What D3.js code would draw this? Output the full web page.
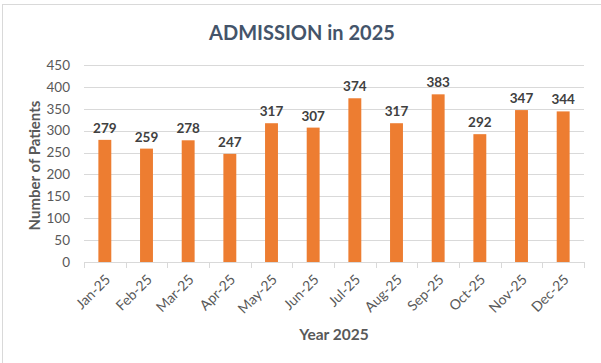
<!DOCTYPE html>
<html>
<head>
<meta charset="utf-8">
<script src="https://cdn.jsdelivr.net/npm/d3@7"></script>
<style>
  body { margin: 0; background: #fff; }
  svg { font-family: Lato, "Open Sans", sans-serif; }
</style>
</head>
<body>
<svg id="chart" width="601" height="363"></svg>
<script>
const months = ['Jan-25', 'Feb-25', 'Mar-25', 'Apr-25', 'May-25', 'Jun-25',
                'Jul-25', 'Aug-25', 'Sep-25', 'Oct-25', 'Nov-25', 'Dec-25']
const admissions = [279, 259, 278, 247, 317, 307, 374, 317, 383, 292, 347, 344]
const yTicks = [0, 50, 100, 150, 200, 250, 300, 350, 400, 450]

const margin = {top: 65, right: 17, bottom: 101, left: 84}
const width = 601 - margin.left - margin.right
const height = 363 - margin.top - margin.bottom

const svg = d3.select('#chart')

// outer chart border (right/bottom fall outside the window)
svg.append('rect')
  .attr('x', 2.5).attr('y', 4.5)
  .attr('width', 640).attr('height', 420)
  .attr('fill', 'none')
  .attr('stroke', '#d9d9d9')

const g = svg.append('g')
  .attr('transform', `translate(${margin.left}, ${margin.top})`)

const x = d3.scaleBand().domain(months).range([0, width])
const y = d3.scaleLinear().domain([0, 450]).range([height, 0])

// gridlines
g.selectAll('.grid')
  .data(yTicks.slice(1))
  .enter().append('line')
  .attr('class', 'grid')
  .attr('x1', 0).attr('x2', width)
  .attr('y1', d => Math.round(y(d)) + 0.5)
  .attr('y2', d => Math.round(y(d)) + 0.5)
  .attr('stroke', '#d9d9d9')

// y axis labels
g.selectAll('.ylab')
  .data(yTicks)
  .enter().append('text')
  .attr('x', -14)
  .attr('y', d => y(d))
  .attr('dy', '0.35em')
  .attr('text-anchor', 'end')
  .attr('font-size', 13.5)
  .attr('fill', '#595959')
  .text(d => d)

// bars
const barW = x.bandwidth() * 0.31
g.selectAll('.bar')
  .data(admissions)
  .enter().append('rect')
  .attr('class', 'bar')
  .attr('x', (d, i) => x(months[i]) + (x.bandwidth() - barW) / 2)
  .attr('y', d => y(d))
  .attr('width', barW)
  .attr('height', d => height - y(d))
  .attr('fill', '#ED7D31')

// data labels
g.selectAll('.val')
  .data(admissions)
  .enter().append('text')
  .attr('x', (d, i) => x(months[i]) + x.bandwidth() / 2)
  .attr('y', d => y(d) - 7)
  .attr('text-anchor', 'middle')
  .attr('font-size', 13.5)
  .attr('font-weight', 'bold')
  .attr('fill', '#404040')
  .text(d => d)

// x axis line and ticks at band edges
const xAxis = g.append('g').attr('transform', `translate(0, ${height})`)
xAxis.append('line')
  .attr('x1', 0).attr('x2', width)
  .attr('y1', 0.5).attr('y2', 0.5)
  .attr('stroke', '#d9d9d9')
xAxis.selectAll('.tick')
  .data(months.map(m => x(m)).concat([width]))
  .enter().append('line')
  .attr('x1', d => Math.round(d) + 0.5).attr('x2', d => Math.round(d) + 0.5)
  .attr('y1', 0).attr('y2', 6)
  .attr('stroke', '#d9d9d9')
xAxis.selectAll('.xlab')
  .data(months)
  .enter().append('text')
  .attr('transform', d => `translate(${x(d) + x.bandwidth() / 2 + 3}, 15) rotate(-45)`)
  .attr('text-anchor', 'end')
  .attr('dy', '0.35em')
  .attr('font-size', 14)
  .attr('fill', '#595959')
  .text(d => d)

// titles
svg.append('text')
  .attr('x', 302).attr('y', 40)
  .attr('text-anchor', 'middle')
  .attr('font-size', 20)
  .attr('font-weight', 'bold')
  .attr('fill', '#44546A')
  .text('ADMISSION in 2025')

svg.append('text')
  .attr('x', margin.left + width / 2).attr('y', 340)
  .attr('text-anchor', 'middle')
  .attr('font-size', 15.5)
  .attr('font-weight', 'bold')
  .attr('fill', '#595959')
  .text('Year 2025')

svg.append('text')
  .attr('transform', `translate(40, ${margin.top + height / 2 + 2}) rotate(-90)`)
  .attr('text-anchor', 'middle')
  .attr('font-size', 15)
  .attr('font-weight', 'bold')
  .attr('fill', '#595959')
  .text('Number of Patients')
</script>
</body>
</html>
